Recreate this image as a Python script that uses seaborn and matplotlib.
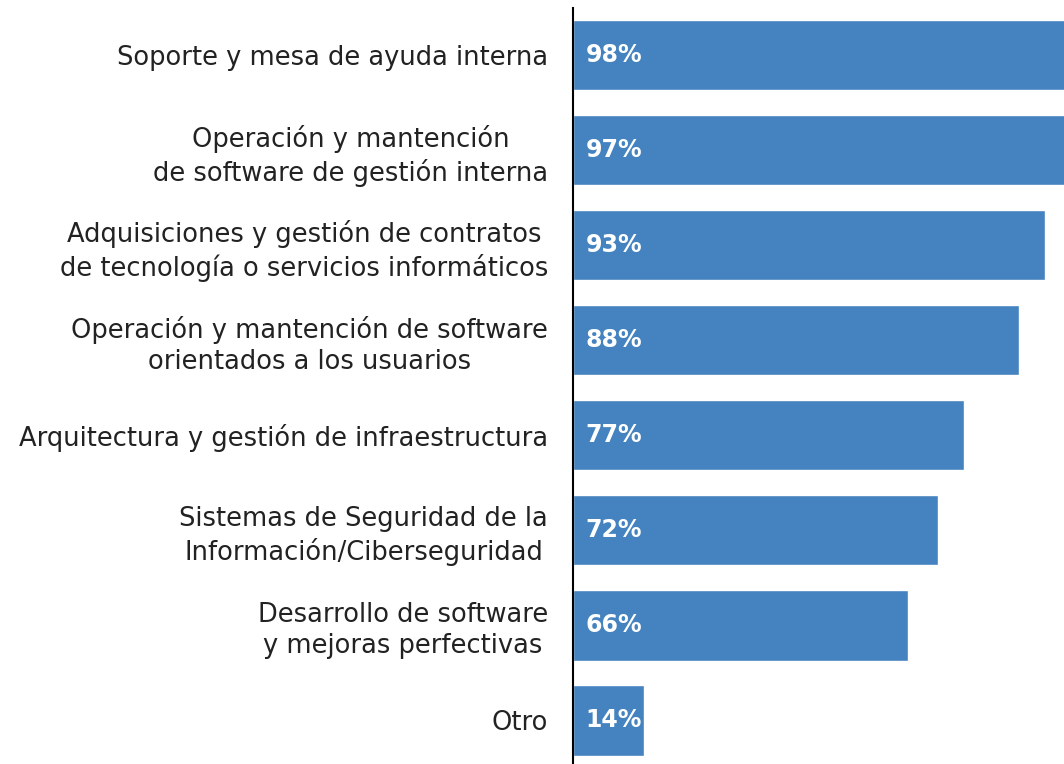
import matplotlib
matplotlib.use("Agg")
import matplotlib.pyplot as plt
import seaborn as sns
import pandas as pd

categories = [
    "Soporte y mesa de ayuda interna",
    "Operación y mantención\nde software de gestión interna",
    "Adquisiciones y gestión de contratos\nde tecnología o servicios informáticos",
    "Operación y mantención de software\norientados a los usuarios",
    "Arquitectura y gestión de infraestructura",
    "Sistemas de Seguridad de la\nInformación/Ciberseguridad",
    "Desarrollo de software\ny mejoras perfectivas",
    "Otro",
]
values = [98, 97, 93, 88, 77, 72, 66, 14]
value_labels = ["98%", "97%", "93%", "88%", "77%", "72%", "66%", "14%"]

sns.set_style("white")
plt.rcParams["font.family"] = ["DejaVu Sans"]

df = pd.DataFrame({"cat": categories, "val": values})

fig = plt.figure(figsize=(10.64, 7.64), dpi=100)
ax = fig.add_axes([573 / 1064, 0.0, 1 - 573 / 1064, (764 - 8) / 764])

sns.barplot(data=df, x="val", y="cat", orient="h", color="#4483bf",
            saturation=1, width=0.74, ax=ax)

ax.set_xlim(0, 96.8)
ax.set_ylim(7.458, -0.494)
ax.set_xlabel("")
ax.set_ylabel("")
ax.set_xticks([])
for s in ["top", "right", "bottom"]:
    ax.spines[s].set_visible(False)
ax.spines["left"].set_color("black")
ax.spines["left"].set_linewidth(1.5)
ax.tick_params(axis="y", length=0, pad=18)
for t in ax.get_yticklabels():
    t.set_multialignment("center")
    t.set_fontsize(18.5)
    t.set_color("#222222")
    t.set_linespacing(1.25)

for i, (v, lab) in enumerate(zip(values, value_labels)):
    ax.text(2.5, i, lab, color="white", fontweight="bold", fontsize=17,
            va="center", ha="left")

fig.savefig("out.png", dpi=100)
